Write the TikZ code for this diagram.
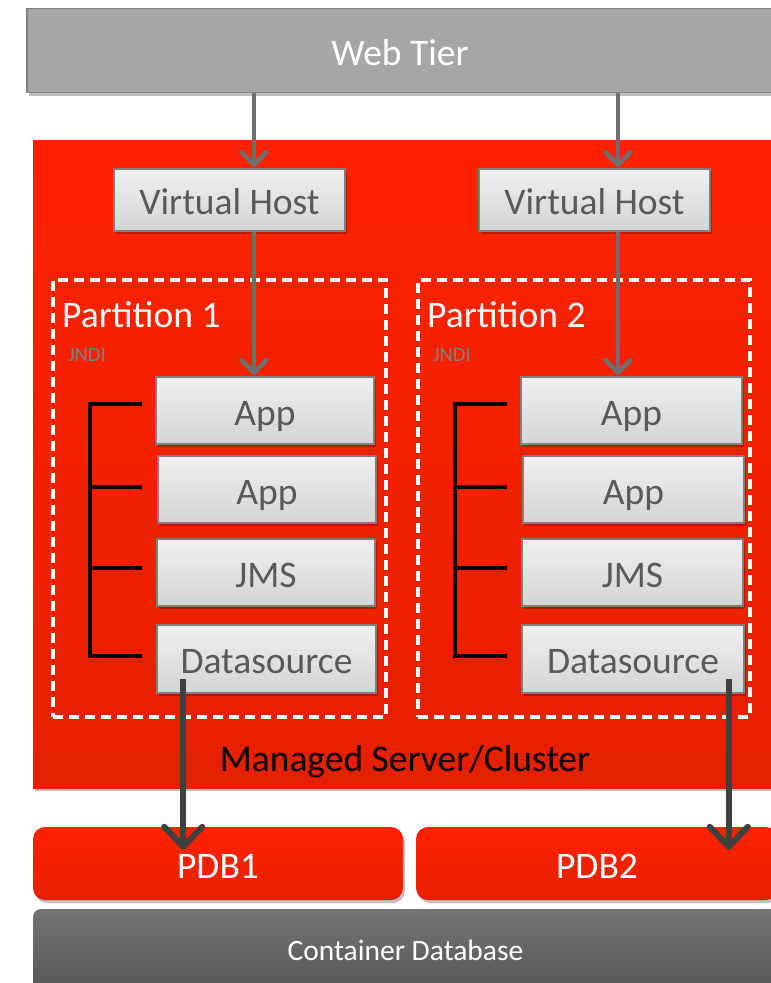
\documentclass[tikz,border=0pt]{standalone}
\usepackage{fontspec}
\setmainfont{Carlito}
\usetikzlibrary{arrows.meta,shadows,calc}
\definecolor{ored}{HTML}{FF2200}
\definecolor{oredb}{HTML}{E42000}
\definecolor{bordergray}{HTML}{7F7F7F}
\definecolor{textgray}{HTML}{595959}
\definecolor{webgray}{HTML}{A6A6A6}
\definecolor{arrgray}{HTML}{6E6E6E}
\definecolor{dsarr}{HTML}{404040}
\definecolor{jndigray}{HTML}{808080}
\definecolor{cdbtop}{HTML}{747474}
\definecolor{cdbbot}{HTML}{575757}
\begin{document}
\begin{tikzpicture}[x=1pt,y=-1pt,
  bigfont/.style={font=\fontsize{37.5}{40}\selectfont,text height=29pt,text depth=0pt},
  shad/.style={drop shadow={shadow xshift=2pt,shadow yshift=-3pt,opacity=0.25,fill=black}},
  graybox/.style={draw=bordergray,line width=1.5pt,top color=white!94!black,bottom color=white!83!black,
     text=textgray,bigfont,inner sep=0pt,shad},
  webbox/.style={draw=bordergray,line width=1.5pt,fill=webgray,text=white,bigfont,inner sep=0pt,shad},
  redbox/.style={top color=ored,bottom color=oredb,inner sep=0pt,shad},
  pdbbox/.style={top color=ored,bottom color=oredb,rounded corners=12pt,text=white,bigfont,inner sep=0pt,shad},
  cdbbox/.style={top color=cdbtop,bottom color=cdbbot,rounded corners=8pt,text=white,
     font=\fontsize{29.5}{32}\selectfont,text height=20pt,text depth=0pt,inner sep=0pt},
  partbox/.style={draw=white,line width=3.5pt,dash pattern=on 10pt off 6pt,inner sep=0pt},
  arr/.style={draw=arrgray,line width=4.5pt,-{Straight Barb[length=13pt,width=25pt,line cap=round,line join=round]}},
  dsarrow/.style={draw=dsarr,line width=6pt,-{Straight Barb[length=20pt,width=38pt,line cap=round,line join=round]}},
  bracket/.style={draw=black,line width=4pt}
]
\useasboundingbox (0,0) rectangle (771,983);
\clip (0,0) rectangle (771,983);
\fill[white] (0,0) rectangle (771,983);

% Web tier
\node[webbox,minimum width=746pt,minimum height=84pt] (web) at (400,50.5) {Web Tier};

% Managed server area
\node[redbox,minimum width=747pt,minimum height=648pt] (server) at (406.5,464) {};
\node[bigfont,text=black,inner sep=0pt] (servertxt) at (405,756.5) {Managed Server/Cluster};

% Virtual hosts
\node[graybox,minimum width=231pt,minimum height=62pt] (vh1) at (229.5,200) {Virtual Host};
\node[graybox,minimum width=231pt,minimum height=62pt] (vh2) at (594.5,200) {Virtual Host};

% Partitions
\node[partbox,minimum width=333pt,minimum height=437pt] (p1) at (219.5,498.5) {};
\node[partbox,minimum width=332pt,minimum height=437pt] (p2) at (584,498.5) {};
\node[text=white,bigfont,anchor=west,inner sep=0pt] (p1t) at (62,312.5) {Partition 1};
\node[text=white,bigfont,anchor=west,inner sep=0pt] (p2t) at (427,312.5) {Partition 2};
\node[text=jndigray,font=\fontsize{20.5}{22}\selectfont,anchor=west,inner sep=0pt] (j1) at (68,355) {JNDI};
\node[text=jndigray,font=\fontsize{20.5}{22}\selectfont,anchor=west,inner sep=0pt] (j2) at (433,355) {JNDI};

% Partition 1 components
\node[graybox,minimum width=218pt,minimum height=67pt] (app1) at (265,410.5) {App};
\node[graybox,minimum width=218pt,minimum height=67pt] (app2) at (267,489.5) {App};
\node[graybox,minimum width=218pt,minimum height=67pt] (jms1) at (266,572.5) {JMS};
\node[graybox,minimum width=219pt,minimum height=68pt] (ds1) at (266.5,659) {Datasource};

% Partition 2 components
\node[graybox,minimum width=221pt,minimum height=67pt] (app3) at (631.5,410.5) {App};
\node[graybox,minimum width=221pt,minimum height=67pt] (app4) at (633.5,489.5) {App};
\node[graybox,minimum width=221pt,minimum height=67pt] (jms2) at (632.5,572.5) {JMS};
\node[graybox,minimum width=222pt,minimum height=68pt] (ds2) at (633,659) {Datasource};

% Brackets
\draw[bracket] (142,404) -- (90,404) -- (90,656) -- (142,656);
\draw[bracket] (90,487) -- (142,487);
\draw[bracket] (90,568) -- (142,568);
\draw[bracket] (507,404) -- (455,404) -- (455,656) -- (507,656);
\draw[bracket] (455,487) -- (507,487);
\draw[bracket] (455,568) -- (507,568);

% Databases
\node[cdbbox,minimum width=745pt,minimum height=82pt] (cdb) at (405.5,950) {Container Database};
\node[pdbbox,minimum width=370pt,minimum height=73pt] (pdb1) at (218,863.5) {PDB1};
\node[pdbbox,minimum width=362pt,minimum height=73pt] (pdb2) at (597,863.5) {PDB2};

% Arrows
\draw[arr] ([xshift=24.5pt]vh1.north |- web.south) -- ([xshift=24.5pt,yshift=1pt]vh1.north);
\draw[arr] ([xshift=23.5pt]vh2.north |- web.south) -- ([xshift=23.5pt,yshift=1pt]vh2.north);
\draw[arr] ([xshift=24.5pt]vh1.south) -- ([xshift=24.5pt,yshift=1pt]vh1.south |- app1.north);
\draw[arr] ([xshift=23.5pt]vh2.south) -- ([xshift=23.5pt,yshift=1pt]vh2.south |- app3.north);

\coordinate (s1) at ($(ds1.south west)+(27,-15)$);
\coordinate (s2) at ($(ds2.south east)+(-16,-15)$);
\draw[dsarrow] (s1) -- ([yshift=-23pt]pdb1.north -| s1);
\draw[dsarrow] (s2) -- ([yshift=-23pt]pdb2.north -| s2);
\end{tikzpicture}
\end{document}
